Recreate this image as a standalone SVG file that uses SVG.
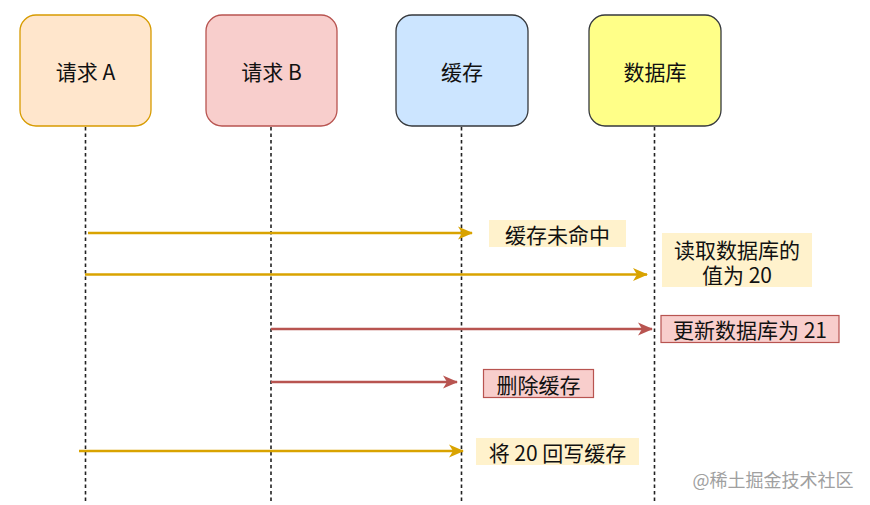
<svg xmlns="http://www.w3.org/2000/svg" width="870" height="505" viewBox="0 0 870 505">
<defs>
<style>
text{font-family:"Noto Sans CJK SC","Liberation Sans",sans-serif;font-size:21px;fill:#111;text-anchor:middle;dominant-baseline:central}
.node{stroke-width:1.3}
.life{stroke:#222;stroke-width:1.6;stroke-dasharray:3.5 3;fill:none}
.y{stroke:#d9a300;stroke-width:2.5;fill:none}
.r{stroke:#b85450;stroke-width:2.5;fill:none}
.wm{font-size:18px;fill:#a0a0a0}
</style>
<marker id="ay" markerWidth="15" markerHeight="14" viewBox="0 0 15 14" refX="14" refY="7" orient="auto" markerUnits="userSpaceOnUse">
<path d="M0,0.5 L15,7 L0,13.5 L4,7 Z" fill="#d9a300"/>
</marker>
<marker id="ar" markerWidth="15" markerHeight="14" viewBox="0 0 15 14" refX="14" refY="7" orient="auto" markerUnits="userSpaceOnUse">
<path d="M0,0.5 L15,7 L0,13.5 L4,7 Z" fill="#b85450"/>
</marker>
</defs>
<rect width="870" height="505" fill="#fff"/>
<g id="lifelines">
<line class="life" x1="85.5" y1="127" x2="85.5" y2="502"/>
<line class="life" x1="271" y1="127" x2="271" y2="502"/>
<line class="life" x1="461.5" y1="127" x2="461.5" y2="502"/>
<line class="life" x1="654.5" y1="127" x2="654.5" y2="502"/>
</g>
<g id="nodeA"><rect class="node" x="20" y="15" width="131" height="111" rx="16" fill="#ffe6cc" stroke="#d79b00"/><text x="85.5" y="71">请求 A</text></g>
<g id="nodeB"><rect class="node" x="206" y="15" width="131" height="111" rx="16" fill="#f8cecc" stroke="#b85450"/><text x="271.5" y="71">请求 B</text></g>
<g id="nodeCache"><rect class="node" x="396" y="15" width="132" height="111" rx="16" fill="#cce5ff" stroke="#36393d"/><text x="462" y="71">缓存</text></g>
<g id="nodeDB"><rect class="node" x="589" y="15" width="132" height="111" rx="16" fill="#ffff88" stroke="#36393d"/><text x="655" y="71">数据库</text></g>
<g id="connectors">
<line class="y" x1="88" y1="233" x2="472" y2="233" marker-end="url(#ay)"/>
<line class="y" x1="85" y1="274.5" x2="647" y2="274.5" marker-end="url(#ay)"/>
<line class="r" x1="271" y1="329" x2="652" y2="329" marker-end="url(#ar)"/>
<line class="r" x1="271" y1="382" x2="457" y2="382" marker-end="url(#ar)"/>
<line class="y" x1="79" y1="451" x2="463" y2="451" marker-end="url(#ay)"/>
</g>
<g id="label1"><rect x="489" y="220" width="137" height="27" fill="#fff2cc"/><text x="557.5" y="233.5">缓存未命中</text></g>
<g id="label2"><rect x="662" y="233" width="150" height="54" fill="#fff2cc"/><text x="737" y="248.5">读取数据库的<tspan x="737" dy="25.5">值为 20</tspan></text></g>
<g id="label3"><rect x="661" y="315.5" width="178" height="27" fill="#f8cecc" stroke="#b85450" stroke-width="1.2"/><text x="750" y="329">更新数据库为 21</text></g>
<g id="label4"><rect x="483.5" y="369.5" width="110" height="28" fill="#f8cecc" stroke="#b85450" stroke-width="1.2"/><text x="538.5" y="383.5">删除缓存</text></g>
<g id="label5"><rect x="476" y="438" width="163" height="27" fill="#fff2cc"/><text x="557.5" y="451.5">将 20 回写缓存</text></g>
<text class="wm" x="773" y="479">@稀土掘金技术社区</text>
</svg>
